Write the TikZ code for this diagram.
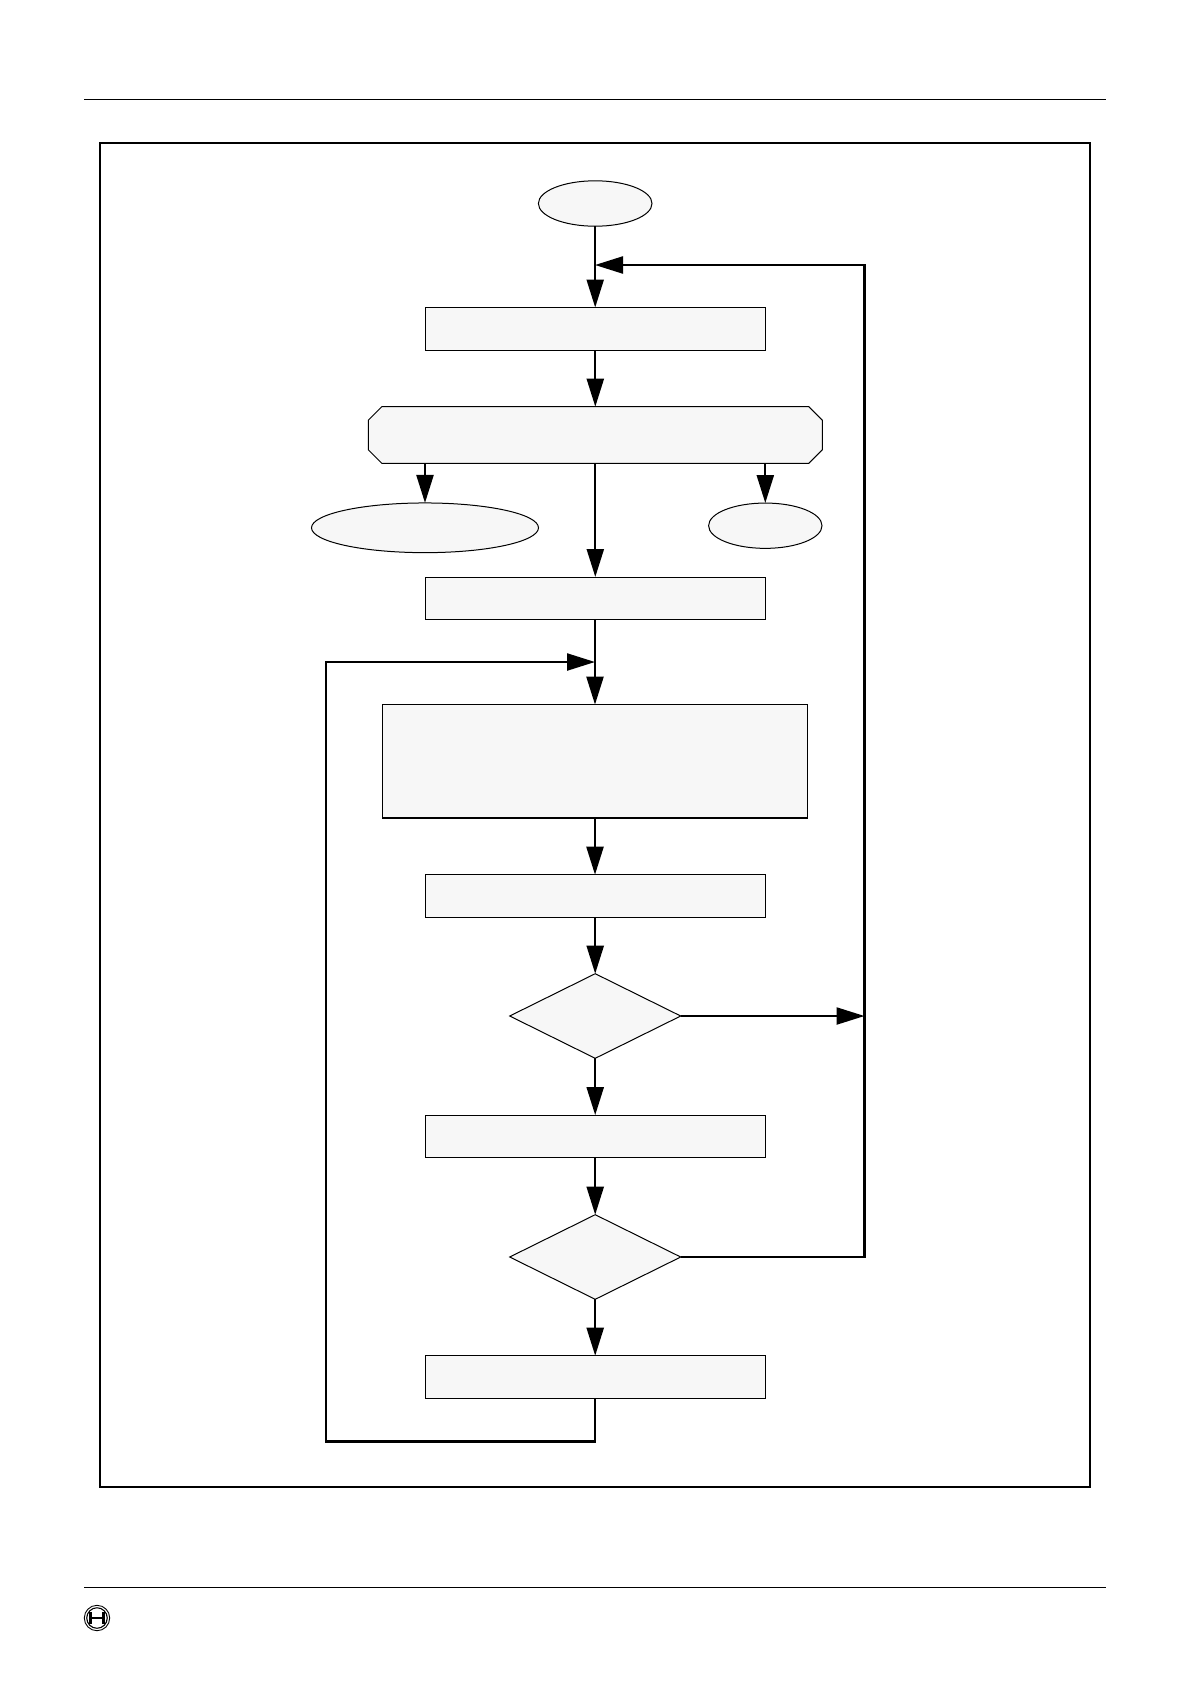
\documentclass[tikz,border=0pt]{standalone}
\usepackage{tikz}
\usetikzlibrary{arrows.meta,shapes.geometric}
\definecolor{boxfill}{HTML}{F7F7F7}
\tikzset{
 x=1pt,y=-1pt,
 shapebase/.style={draw=black,fill=boxfill,line width=1pt,inner sep=0pt,outer sep=0pt},
 procbox/.style={shapebase,rectangle,minimum width=340.4pt,minimum height=42.6pt},
 term/.style={shapebase,ellipse},
 decide/.style={shapebase,diamond,aspect=2.02,minimum width=171pt,minimum height=84.6pt},
 flow/.style={line width=2.3pt,-{Triangle[length=28pt,width=17pt]}},
 plainflow/.style={line width=2.3pt},
 busline/.style={line width=2.8pt,line cap=rect},
 rulebar/.style={line width=1pt},
}
\begin{document}
\begin{tikzpicture}
\useasboundingbox (0,0) rectangle (1190,1684);
% page furniture
\coordinate (rtl) at (84,99.6); \coordinate (rtr) at (1106,99.6);
\coordinate (rbl) at (84,1587.5); \coordinate (rbr) at (1106,1587.5);
\draw[rulebar] (rtl) -- (rtr);
\draw[rulebar] (rbl) -- (rbr);
\node[draw=black,line width=1.8pt,rectangle,inner sep=0pt,outer sep=0pt,minimum width=990pt,minimum height=1344.5pt] (frame) at (595,815) {};
% logo
\node[draw=black,circle,line width=.9pt,minimum size=25.4pt,inner sep=0pt] (logo) at (97,1618) {};
\node[draw=black,circle,line width=1.1pt,minimum size=20.5pt,inner sep=0pt] (logoin) at (97,1618) {};
\fill (88.6,1612) rectangle (91.6,1624);
\fill (102.4,1612) rectangle (105.4,1624);
\fill (91.6,1616.6) rectangle (102.4,1619.4);
% nodes
\node[term,minimum width=113.6pt,minimum height=45.4pt] (start) at (595.2,203.5) {};
\node[procbox] (b1) at (595.5,328.8) {};
% octagon: the node carries the name, the path gives the cut corners
\node[rectangle,inner sep=0pt,outer sep=0pt,minimum width=454pt,minimum height=56.6pt] (oct) at (595.3,435) {};
\filldraw[draw=black,fill=boxfill,line width=1pt]
  ([xshift=13.5pt]oct.north west) -- ([xshift=-13.5pt]oct.north east)
  -- ([yshift=-13.5pt]oct.north east) -- ([yshift=13.5pt]oct.south east)
  -- ([xshift=-13.5pt]oct.south east) -- ([xshift=13.5pt]oct.south west)
  -- ([yshift=13.5pt]oct.south west) -- ([yshift=-13.5pt]oct.north west) -- cycle;
\node[term,minimum width=227pt,minimum height=49.7pt] (eleft) at (425,527.8) {};
\node[term,minimum width=113.4pt,minimum height=45.3pt] (eright) at (765.3,525.7) {};
\node[procbox] (b2) at (595.5,598.3) {};
\node[shapebase,rectangle,minimum width=425.4pt,minimum height=113.8pt] (big) at (595,761.5) {};
\node[procbox] (b3) at (595.5,896) {};
\node[decide] (d1) at (595.2,1016) {};
\node[procbox] (b4) at (595.5,1136.4) {};
\node[decide] (d2) at (595.2,1257) {};
\node[procbox] (b5) at (595.5,1377) {};
% junctions
\coordinate (j1) at (595,265);
\coordinate (j2) at (595,662);
\coordinate (j3) at (864.5,1016);
\coordinate (cr1) at (864.5,265);
\coordinate (cr2) at (864.5,1257);
\coordinate (cl1) at (326,662);
\coordinate (cl2) at (326,1441.3);
\coordinate (cb) at (595,1441.3);
% thick edge under large box
\draw[line width=2pt] (big.south west) -- (big.south east);
% connectors
\draw[flow] (start.south) -- (b1.north -| start.south);
\draw[flow] (b1.south -| oct.north) -- (oct.north);
\draw[flow] (oct.south -| eleft.north) -- (eleft.north);
\draw[flow] (oct.south -| eright.north) -- (eright.north);
\draw[flow] (oct.south) -- (b2.north -| oct.south);
\draw[flow] (b2.south -| j2) -- (big.north);
\draw[flow] (big.south) -- (b3.north -| big.south);
\draw[flow] (b3.south -| d1.north) -- (d1.north);
\draw[flow] (d1.south) -- (b4.north -| d1.south);
\draw[flow] (b4.south -| d2.north) -- (d2.north);
\draw[flow] (d2.south) -- (b5.north -| d2.south);
\draw[flow] (d1.east) -- (j3);
\draw[plainflow] (d2.east) -- (cr2);
\draw[busline] (cr2) -- (cr1);
\draw[flow] (cr1) -- (j1);
\draw[plainflow] (b5.south -| cb) -- (cb);
\draw[busline] (cb) -- (cl2) -- (cl1);
\draw[flow] (cl1) -- (j2);
\end{tikzpicture}
\end{document}
